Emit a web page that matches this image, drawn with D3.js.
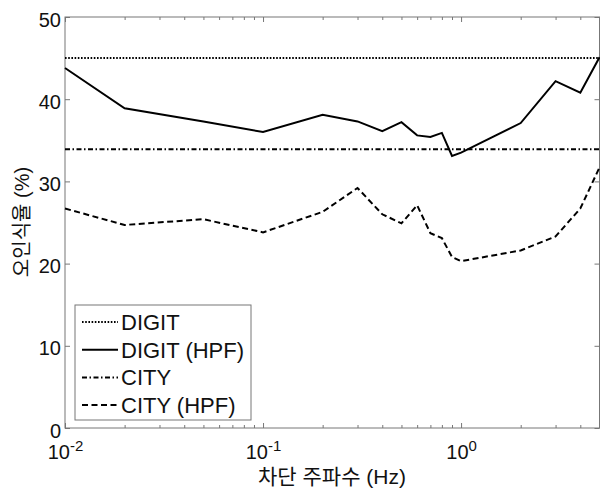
<!DOCTYPE html>
<html>
<head>
<meta charset="utf-8">
<script src="https://cdn.jsdelivr.net/npm/d3@7"></script>
<style>
  body { margin: 0; background: #fff; }
  text { font-family: "Liberation Sans", Arial, "Noto Sans CJK KR", sans-serif; fill: #111; }
</style>
</head>
<body>
<svg id="chart" width="600" height="490"></svg>
<script>
// cutoff frequencies (Hz)
const freq = [0.01, 0.02, 0.05, 0.1, 0.2, 0.3, 0.4, 0.5, 0.6, 0.7, 0.8, 0.9, 1, 2, 3, 4, 5];
const digitHpf = [43.8, 38.9, 37.3, 36.0, 38.1, 37.3, 36.1, 37.2, 35.6, 35.4, 35.9, 33.1, 33.5, 37.1, 42.2, 40.8, 45.1];
const cityHpf = [26.7, 24.7, 25.4, 23.8, 26.3, 29.2, 26.0, 24.9, 27.1, 23.7, 23.1, 20.8, 20.3, 21.6, 23.3, 26.7, 31.7];
const digitFlat = 45.0;
const cityFlat = 33.9;

const xMajor = [0.01, 0.1, 1];
const yTicks = [0, 10, 20, 30, 40, 50];
const legendNames = ["DIGIT", "DIGIT (HPF)", "CITY", "CITY (HPF)"];

window.onload = () => {
    let svg = d3.select("#chart");
    let left = 65, top = 17, right = 599.5, bottom = 428;

    let x = d3.scaleLog().domain([0.01, 5]).range([left, right]);
    let y = d3.scaleLinear().domain([0, 50]).range([bottom, top]);

    // minor ticks
    let xMinor = [];
    [0.01, 0.1, 1].forEach(d => { for (let k = 2; k <= 9; k++) if (d * k <= 5) xMinor.push(d * k); });

    let axisColor = "#777";

    let styleAxis = g => {
        g.select(".domain").remove();
        g.selectAll(".tick line").attr("stroke", axisColor);
    };

    svg.append("g").attr("transform", `translate(0,${bottom})`)
        .call(d3.axisBottom(x).tickValues(xMinor).tickSizeInner(-3).tickFormat(""))
        .call(styleAxis);
    svg.append("g").attr("transform", `translate(0,${top})`)
        .call(d3.axisTop(x).tickValues(xMinor).tickSizeInner(-3).tickFormat(""))
        .call(styleAxis);
    svg.append("g").attr("transform", `translate(0,${top})`)
        .call(d3.axisTop(x).tickValues(xMajor).tickSizeInner(-5).tickFormat(""))
        .call(styleAxis);

    let xAxis = svg.append("g").attr("transform", `translate(0,${bottom})`)
        .call(d3.axisBottom(x).tickValues(xMajor).tickSizeInner(-5).tickPadding(17))
        .call(styleAxis);
    xAxis.selectAll(".tick text")
        .attr("font-size", "20px")
        .attr("font-family", null)
        .text(null)
        .each(function (d) {
            let t = d3.select(this);
            t.append("tspan").text("10");
            t.append("tspan").attr("dy", "-0.55em").attr("font-size", "15px")
                .text(Math.round(Math.log10(d)));
        });

    let yAxis = svg.append("g").attr("transform", `translate(${left},0)`)
        .call(d3.axisLeft(y).tickValues(yTicks).tickSizeInner(-5).tickPadding(4))
        .call(styleAxis);
    yAxis.selectAll(".tick text").attr("font-size", "20px").attr("font-family", null).attr("dy", "0.45em");

    svg.append("g").attr("transform", `translate(${right},0)`)
        .call(d3.axisRight(y).tickValues(yTicks).tickSizeInner(-5).tickFormat(""))
        .call(styleAxis);

    // frame
    svg.append("rect")
        .attr("x", left).attr("y", top)
        .attr("width", right - left).attr("height", bottom - top)
        .attr("fill", "none").attr("stroke", axisColor).attr("stroke-width", 1);

    // series
    let line = d3.line().x(d => x(d[0])).y(d => y(d[1]));
    let series = [
        { name: legendNames[0], pts: [[0.01, digitFlat], [5, digitFlat]], dash: "1.6,1.6" },
        { name: legendNames[1], pts: freq.map((f, i) => [f, digitHpf[i]]), dash: null },
        { name: legendNames[2], pts: [[0.01, cityFlat], [5, cityFlat]], dash: "5,2.5,1.5,2.5" },
        { name: legendNames[3], pts: freq.map((f, i) => [f, cityHpf[i]]), dash: "6,3.5" }
    ];

    svg.selectAll(".series")
        .data(series)
        .enter()
        .append("path")
        .attr("class", "series")
        .attr("d", d => line(d.pts))
        .attr("fill", "none")
        .attr("stroke", "#000")
        .attr("stroke-width", 2)
        .attr("stroke-dasharray", d => d.dash);

    // legend
    let legend = svg.append("g");
    legend.append("rect")
        .attr("x", 75).attr("y", 305)
        .attr("width", 176).attr("height", 115)
        .attr("fill", "#fff").attr("stroke", axisColor);

    let items = legend.selectAll(".item")
        .data(series)
        .enter()
        .append("g")
        .attr("transform", (d, i) => `translate(0,${322 + i * 27.7})`);
    items.append("line")
        .attr("x1", 82).attr("x2", 118)
        .attr("stroke", "#000").attr("stroke-width", 2)
        .attr("stroke-dasharray", d => d.dash);
    items.append("text")
        .attr("x", 121).attr("dy", "0.36em")
        .attr("font-size", "22px")
        .text(d => d.name);

    // axis titles
    svg.append("text")
        .attr("x", 332).attr("y", 484)
        .attr("text-anchor", "middle")
        .attr("font-size", "21px")
        .text("차단 주파수 (Hz)");
    svg.append("text")
        .attr("transform", "translate(29,222) rotate(-90)")
        .attr("text-anchor", "middle")
        .attr("font-size", "20px")
        .text("오인식율 (%)");
};
</script>
</body>
</html>
